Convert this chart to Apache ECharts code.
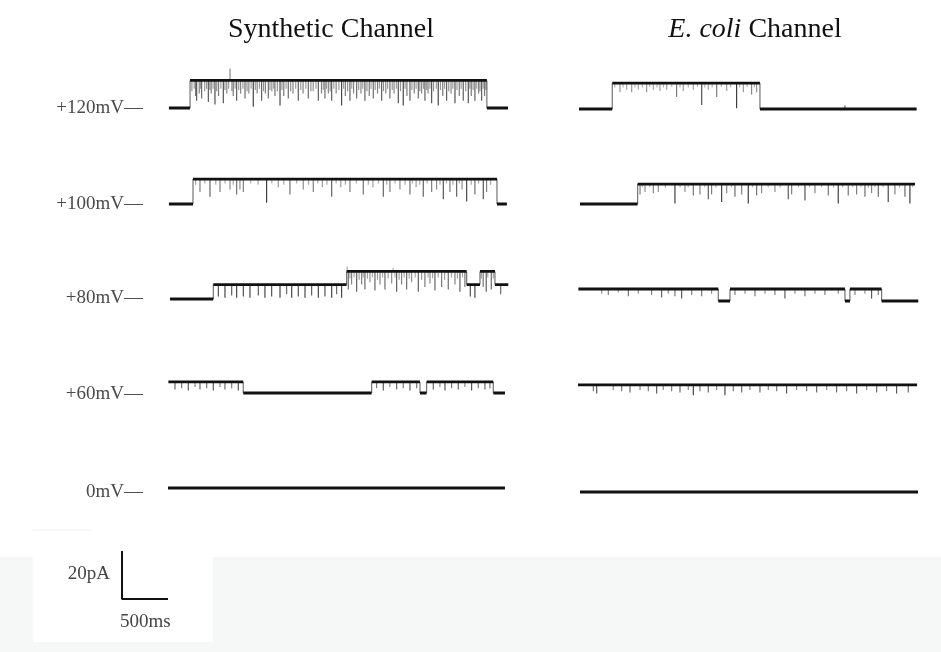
<!DOCTYPE html>
<html><head><meta charset="utf-8">
<script src="https://cdn.jsdelivr.net/npm/echarts@6/dist/echarts.min.js"></script>
<style>html,body{margin:0;padding:0;background:#fff}#c{width:941px;height:652px}</style>
</head><body><div id="c"></div>
<script>
// ---- DATA (time in ms, current in pA; closed level = 0) ----
const columnTitles = ['Synthetic Channel', 'E. coli Channel'];
const voltageLabels = ['+120mV', '+100mV', '+80mV', '+60mV', '0mV'];
const scaleBar = { current: 20, time: 500, currentLabel: '20pA', timeLabel: '500ms' };

// level segments: [startTime, current]; last entry = end of trace
const synLevels120 = [[10,0],[240,11.5],[3470,0],[3700,0]];
const synLevels100 = [[10,0],[272,10.4],[3580,0],[3688,0]];
const synLevels80  = [[22,0],[493,6],[1944,11.5],[3250,6],[3395,11.5],[3558,6],[3703,6]];
const synLevels60  = [[4,4.6],[819,0],[2216,4.6],[2742,0],[2814,4.6],[3540,0],[3667,0]];
const synLevels0   = [[0,0],[3667,0]];

const ecoLevels120 = [[11,0],[373,10.8],[1980,0],[3685,0]];
const ecoLevels100 = [[22,0],[649,8.3],[3667,8.3]];
const ecoLevels80  = [[4,5],[1527,0],[1654,5],[2905,0],[2959,5],[3304,0],[3703,0]];
const ecoLevels60  = [[0,4.6],[3690,4.6]];
const ecoLevels0   = [[22,0],[3700,0]];

// brief flickers: [time, current reached]
const synSpikes120 = [[300,5],[312,3],[340,6],[366,4],[400,7],[439,2.5],[470,6],[511,1.5],[550,5],[602,2],[640,6],[675,16.5],[710,5],[747,3],[790,6],[838,4],[880,6],[928,0.5],[970,6],[1019,3],[1060,6],[1092,4],[1130,7],[1164,5],[1219,1],[1260,5],[1309,4],[1360,6],[1418,3],[1470,6],[1527,4],[1580,7],[1636,3],[1670,6],[1708,4],[1745,6],[1781,3],[1830,6],[1889,1],[1930,5],[1980,3],[2020,6],[2053,4],[2100,6],[2143,3],[2190,5],[2234,4],[2280,6],[2325,3],[2370,6],[2415,4],[2460,6],[2506,2],[2560,1],[2600,5],[2633,3],[2680,6],[2724,4],[2760,6],[2796,3],[2830,6],[2869,2],[2941,1],[2990,5],[3032,3],[3080,6],[3123,2],[3170,5],[3213,3],[3268,2],[3300,5],[3340,3],[3380,6],[3413,3],[3445,5],
  [260,7],[285,8],[355,8],[420,8],[455,7.5],[490,8],[530,7],[575,8],[620,7.5],[660,8],[695,7],[730,8],[770,7.5],[815,8],[860,7],[905,8],[950,7.5],[995,8],[1040,7],[1110,7.5],[1150,8],[1190,7],[1240,7.5],[1285,8],[1335,7],[1390,8],[1445,7.5],[1500,8],[1555,7],[1610,8],[1690,7.5],[1725,8],[1765,7],[1805,8],[1860,7.5],[1910,8],[1955,7],[2000,8],[2075,7.5],[2120,8],[2165,7],[2210,8],[2255,7.5],[2300,8],[2345,7],[2390,8],[2440,7.5],[2485,8],[2530,7],[2580,8],[2655,7.5],[2700,8],[2740,7],[2780,8],[2815,7.5],[2850,8],[2890,7],[2920,8],[2965,7.5],[3010,8],[3055,7],[3100,8],[3145,7.5],[3190,8],[3240,7],[3285,8],[3320,7.5],[3360,8],[3395,7],[3430,8],[3460,7.5]];
const synSpikes100 = [[348,5],[457,3],[566,5],[675,6],[747,4],[783,6],[820,5],[1073,0.5],[1200,7],[1327,4],[1472,6],[1581,5],[1680,7],[1781,3],[1880,7],[1980,5],[2125,4],[2230,7],[2343,3],[2415,5],[2524,6],[2633,4],[2700,7],[2778,3],[2869,5],[2923,6],[2996,2],[3068,5],[3141,3],[3200,6],[3250,1],[3340,4],[3431,2],[3467,5],
  [300,8],[400,8.5],[520,8],[620,8.5],[710,8],[900,8.5],[980,8],[1130,8.5],[1260,8],[1400,8.5],[1530,8],[1630,8.5],[1730,8],[1830,8.5],[1930,8],[2050,8.5],[2180,8],[2290,8.5],[2380,8],[2470,8.5],[2580,8],[2660,8.5],[2740,8],[2820,8.5],[2960,8],[3030,8.5],[3100,8],[3170,8.5],[3300,8],[3380,8.5],[3510,8]];
const synSpikes80  = [[548,1],[620,0.5],[693,1.5],[747,0.5],[820,1],[892,0.5],[983,1.5],[1055,0.5],[1128,1],[1219,0.5],[1291,2],[1346,0.5],[1418,1],[1491,0.5],[1563,1.5],[1636,0.5],[1708,1],[1781,0.5],[1835,2],[1889,0.5],
  [1950,13.5],[1962,4],[1998,6],[2053,3],[2107,6],[2143,4],[2198,7],[2252,3.5],[2307,6],[2361,4],[2434,6.5],[2450,13],[2488,3],[2542,6],[2597,4],[2651,7],[2724,3],[2796,5],[2851,6.5],[2905,3.5],[2978,5],[3050,4],[3123,6],[3177,3],[3231,5],
  [3290,1],[3340,0.5],[3430,5],[3463,3],[3518,4],[3620,2],
  [1980,8.5],[2025,9],[2080,8],[2125,9],[2170,8.5],[2225,9],[2280,8],[2335,9],[2395,8.5],[2470,9],[2515,8],[2570,9],[2625,8.5],[2690,9],[2760,8],[2830,9],[2880,8.5],[2940,9],[3010,8],[3085,9],[3150,8.5],[3205,9],[3410,8.5],[3480,9],[3540,8.5]];
const synSpikes60  = [[76,1.5],[149,2],[221,1],[294,2.5],[348,1.5],[421,2],[493,1],[566,2.5],[620,1.5],[693,2],[765,1],
  [2270,2],[2343,1],[2415,2.5],[2488,1.5],[2560,2],[2633,1],[2706,2],
  [2887,1.5],[2959,2.5],[3014,1],[3086,2],[3159,1.5],[3231,2.5],[3304,1],[3376,2],[3449,1.5],[3503,2]];
const synSpikes0   = [];

const ecoSpikes120 = [[457,7],[530,8],[584,7],[656,8],[747,7],[820,8],[892,7.5],[965,8],[1073,5],[1146,7.5],[1255,8],[1346,1.7],[1418,8],[1509,5],[1618,7.5],[1726,0.3],[1799,7],[1889,6],[1944,7],[2905,1.5],
  [400,9],[490,9],[620,9],[700,9],[780,9.2],[860,9],[930,9],[1020,9.2],[1110,9],[1200,9],[1300,9.2],[1380,9],[1460,9],[1560,9.2],[1660,9],[1760,9],[1840,9.2],[1920,9]];
const ecoSpikes100 = [[675,4],[729,5],[820,4.5],[874,5],[1055,0.2],[1164,5],[1255,3.5],[1327,4],[1418,2],[1454,4],[1563,0.8],[1618,4.5],[1708,3],[1781,4],[1853,0.2],[1944,3.5],[1998,4.5],[2143,5],[2288,2],[2325,4],[2470,1.5],[2579,4.5],[2724,3.5],[2832,0.2],[2941,3.5],[3032,4],[3123,3],[3195,4.5],[3268,3],[3376,0.8],[3449,4],[3558,3],[3612,0.2],
  [700,7],[780,7],[950,6.8],[1110,7],[1200,7],[1380,7],[1500,6.8],[1670,7],[1900,7],[2070,7],[2200,6.8],[2400,7],[2520,7],[2650,7],[2780,6.8],[2880,7],[2990,7],[3080,7],[3160,6.8],[3230,7],[3320,7],[3500,6.8],[3640,7]];
const ecoSpikes80  = [[258,3],[330,2.5],[439,3.5],[548,2],[656,3],[801,2.5],[910,1.5],[983,3],[1055,2],[1128,1],[1237,2.5],[1346,2],[1454,3],
  [1708,2.5],[1817,3],[1926,2],[2035,3],[2143,2.5],[2252,1],[2361,3],[2470,2],[2579,3],[2687,2.5],[2832,3],
  [3014,2.5],[3123,3],[3195,1],[3268,2.5]];
const ecoSpikes60  = [[167,2],[203,1],[384,2.5],[475,2],[566,1.5],[675,2.5],[765,2],[856,1],[928,2.5],[1019,2],[1110,1.5],[1200,2.5],[1255,0.3],[1327,2],[1418,1.5],[1509,2.5],[1599,0.3],[1690,2],[1781,1.5],[1871,2.5],[1980,1.5],[2071,2.5],[2162,2],[2270,1],[2379,2.5],[2488,2],[2597,1.5],[2706,2.5],[2814,1.5],[2923,2],[3032,1],[3141,2.5],[3250,1.5],[3358,2],[3467,1],[3594,1.5]];
const ecoSpikes0   = [];

const synTraces = [[synLevels120, synSpikes120],[synLevels100, synSpikes100],[synLevels80, synSpikes80],[synLevels60, synSpikes60],[synLevels0, synSpikes0]];
const ecoTraces = [[ecoLevels120, ecoSpikes120],[ecoLevels100, ecoSpikes100],[ecoLevels80, ecoSpikes80],[ecoLevels60, ecoSpikes60],[ecoLevels0, ecoSpikes0]];

// ---- LAYOUT ----
const colLeft = [168, 578];
const rowTops = [[60,156,251,345,440],[61,156,253,348,444]];
const labelY = [108,204,298,394,492];

function levelAt(levels, t){
  let v = levels[0][1];
  for (let i = 0; i < levels.length - 1; i++) if (levels[i][0] <= t) v = levels[i][1];
  return v;
}
// horizontal dwell segments, separated by gaps
function dwellPoints(levels){
  const pts = [];
  for (let i = 0; i < levels.length - 1; i++){
    pts.push([levels[i][0], levels[i][1]]);
    pts.push([levels[i+1][0], levels[i][1]]);
    pts.push([levels[i+1][0], '-']);
  }
  return pts;
}
// vertical transitions between dwell levels: [time, to, from]
function transitions(levels){
  const out = [];
  for (let i = 1; i < levels.length - 1; i++){
    if (levels[i][1] !== levels[i-1][1]) out.push([levels[i][0], levels[i][1], levels[i-1][1], 1]);
  }
  return out;
}
function spikeItem(params, api){
  const t = api.value(0), b = api.value(1), top = api.value(2), isTr = api.value(3);
  const p1 = api.coord([t, top]), p2 = api.coord([t, b]);
  const depth = Math.min(1, Math.abs(top - b) / Math.max(top, 2));
  const op = isTr ? 0.55 : 0.22 + 0.55*depth;
  return { type:'line', shape:{x1:p1[0], y1:p1[1], x2:p2[0], y2:p2[1]},
           style:{stroke:'#000', lineWidth: 1.2, opacity: op} };
}

const grid = [], xAxis = [], yAxis = [], series = [];
[synTraces, ecoTraces].forEach((traces, c) => {
  traces.forEach((tr, r) => {
    const gi = grid.length;
    grid.push({left: colLeft[c], top: rowTops[c][r], width: 340, height: 60});
    xAxis.push({type:'value', gridIndex: gi, min: 0, max: 3700, show: false});
    yAxis.push({type:'value', gridIndex: gi, min: -5, max: 20, show: false});
    const [levels, spikes] = tr;
    const marks = spikes.map(s => [s[0], s[1], levelAt(levels, s[0]), 0]).concat(transitions(levels));
    series.push({type:'custom', xAxisIndex: gi, yAxisIndex: gi, clip: false, silent: true,
      renderItem: spikeItem, data: marks, z: 2});
    series.push({type:'line', xAxisIndex: gi, yAxisIndex: gi, clip: false, silent: true,
      symbol: 'none', connectNulls: false, data: dwellPoints(levels),
      lineStyle: {color: '#111', width: r === 4 ? 3 : 2.8, cap: 'butt'}, z: 3});
  });
});
// scale bar
const sg = grid.length;
grid.push({left: 122, top: 551, width: 46, height: 48});
xAxis.push({type:'value', gridIndex: sg, min: 0, max: scaleBar.time, show: false});
yAxis.push({type:'value', gridIndex: sg, min: 0, max: scaleBar.current, show: false});
series.push({type:'line', xAxisIndex: sg, yAxisIndex: sg, clip: false, silent: true, symbol: 'none',
  data: [[0, scaleBar.current],[0,0],[scaleBar.time,0]], lineStyle: {color:'#111', width: 2}});

const serif = 'Liberation Serif';
const graphic = [
  {type:'rect', z:-10, shape:{x:0, y:557, width:941, height:95}, style:{fill:'#f6f8f8'}},
  {type:'rect', z:-9, shape:{x:33, y:530, width:180, height:112}, style:{fill:'#ffffff'}},
  {type:'line', z:-8, shape:{x1:33, y1:530, x2:92, y2:530}, style:{stroke:'#eef0f0', lineWidth:1}},
  {type:'text', x:331, y:30, style:{text: columnTitles[0], fontSize:28, fontFamily:serif, fill:'#111', align:'center', verticalAlign:'middle'}},
  {type:'text', x:755, y:30, style:{text: '{i|E. coli}{n| Channel}', align:'center', verticalAlign:'middle',
     rich:{i:{fontStyle:'italic', fontSize:28, fontFamily:serif, fill:'#111'}, n:{fontSize:28, fontFamily:serif, fill:'#111'}}}},
  {type:'text', x:110, y:574, style:{text: scaleBar.currentLabel, fontSize:19, fontFamily:serif, fill:'#444', align:'right', verticalAlign:'middle'}},
  {type:'text', x:120, y:622, style:{text: scaleBar.timeLabel, fontSize:19, fontFamily:serif, fill:'#444', align:'left', verticalAlign:'middle'}}
];
voltageLabels.forEach((v, i) => {
  graphic.push({type:'text', x:143, y:labelY[i], style:{text: v + '\u2014', fontSize:19, fontFamily:serif, fill:'#4a4a4a', align:'right', verticalAlign:'middle'}});
});

const chart = echarts.init(document.getElementById('c'));
chart.setOption({animation:false, backgroundColor:'#ffffff', grid, xAxis, yAxis, series, graphic});
</script></body></html>
